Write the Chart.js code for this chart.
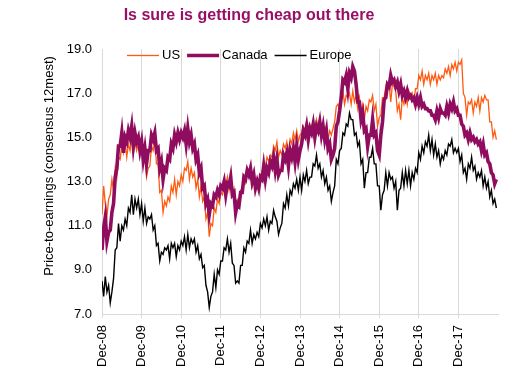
<!DOCTYPE html>
<html>
<head>
<meta charset="utf-8">
<script src="https://cdn.jsdelivr.net/npm/chart.js@4/dist/chart.umd.min.js"></script>
<style>
html,body{margin:0;padding:0;background:#fff;}
#wrap{width:527px;height:382px;position:relative;}
</style>
</head>
<body>
<div id="wrap"><canvas id="c" width="527" height="382"></canvas></div>
<script>
// Half-monthly observations starting Dec-2008 (index i -> i/2 months after Dec-08)
const xTickLabels = ['Dec-08','Dec-09','Dec-10','Dec-11','Dec-12','Dec-13','Dec-14','Dec-15','Dec-16','Dec-17'];
const seriesNames = ['US','Canada','Europe'];

const us = [
11.5,12.8,12.0,11.4,12.2,12.4,13.1,12.6,13.6,13.2,14.1,14.0,14.7,14.3,14.8,14.1,14.7,14.4,15.0,14.3,14.8,14.4,14.7,14.3,
14.8,14.2,14.2,13.2,13.6,13.7,14.6,14.4,14.9,13.8,13.8,12.5,12.6,11.6,12.1,11.9,12.3,12.1,12.8,12.5,13.1,12.4,13.0,12.8,
13.3,13.0,13.6,13.5,13.9,13.1,13.6,13.2,13.4,12.7,13.1,12.3,12.8,12.1,12.3,11.3,11.6,10.5,11.1,11.0,11.8,11.6,12.2,12.0,
12.5,12.4,12.9,12.8,13.2,12.6,13.2,12.5,12.7,11.9,12.2,12.1,12.6,12.5,13.0,12.9,13.4,13.2,13.5,12.8,13.2,12.6,12.9,12.8,
13.3,13.4,13.8,13.7,14.1,13.9,14.2,14.1,14.6,14.4,14.8,14.1,14.4,14.2,14.7,14.5,14.8,14.3,14.9,14.7,15.2,14.9,15.3,14.8,
15.1,15.2,15.5,15.3,15.7,15.2,15.6,15.4,15.7,15.2,15.8,15.5,15.8,15.3,15.6,15.0,15.5,14.9,15.3,15.1,15.4,15.7,16.4,16.5,
16.3,16.7,17.1,16.5,16.9,16.8,17.0,16.5,17.1,16.6,16.9,16.3,16.8,16.2,16.5,15.8,16.4,16.2,16.7,16.6,16.9,16.2,16.5,15.5,
15.9,16.0,16.8,16.8,17.3,17.1,17.4,16.6,17.4,17.3,17.1,16.2,16.5,15.8,16.8,16.5,17.0,16.5,17.1,16.8,17.0,16.6,17.2,17.2,
17.8,17.6,18.0,17.4,17.8,17.6,17.9,17.4,17.8,17.6,17.9,17.4,17.8,17.6,17.8,17.7,18.1,17.9,18.2,17.8,18.3,18.1,18.4,18.0,
18.4,18.3,18.5,17.0,16.8,16.0,16.6,16.5,16.7,16.1,16.6,16.4,16.8,16.2,16.8,16.6,16.9,16.7,16.7,15.7,15.7,15.0,15.3,14.9
];

const canada = [
9.9,10.9,11.4,10.3,10.7,10.8,11.6,12.0,13.2,13.6,14.6,14.6,15.2,14.3,15.0,14.8,15.3,15.0,15.5,14.6,15.2,14.8,15.0,14.4,
14.8,14.0,14.5,13.8,14.4,14.4,15.1,14.9,15.2,14.4,14.5,13.6,13.9,13.1,13.6,13.5,14.1,14.0,14.7,14.5,15.1,14.8,15.2,14.9,
15.2,15.0,15.3,14.7,15.4,14.8,15.1,14.5,14.7,14.0,14.2,13.4,13.6,12.7,12.8,12.0,12.2,11.5,12.0,11.9,12.4,12.3,12.6,12.4,
12.8,12.7,13.0,12.4,12.9,12.8,13.2,12.4,12.5,11.6,12.0,11.9,12.5,12.5,13.2,13.1,13.5,13.3,13.6,13.0,13.3,12.7,13.0,12.7,
13.2,13.1,13.7,13.1,13.6,13.4,13.9,13.7,14.1,13.5,14.0,13.3,13.5,13.5,14.2,14.0,14.3,13.7,14.4,14.1,14.5,13.9,14.6,14.0,
14.4,14.7,15.3,15.1,15.5,14.9,15.4,15.2,15.6,15.0,15.5,15.3,15.7,15.1,15.5,14.9,15.3,14.5,14.7,14.0,14.2,14.5,15.5,15.7,
16.2,16.8,17.6,17.5,17.8,17.2,17.9,17.7,18.2,18.0,17.4,16.6,16.6,15.8,16.1,15.3,15.4,14.6,15.1,15.1,15.8,15.1,15.2,14.4,
14.2,15.1,15.7,16.7,16.8,17.4,17.3,17.8,17.5,17.6,17.3,17.5,17.1,17.4,16.9,17.1,16.8,17.1,16.8,16.9,16.7,16.8,16.5,16.8,
16.5,16.8,16.4,16.5,16.3,16.3,16.2,16.2,16.0,16.0,15.8,16.2,15.9,16.3,16.1,16.1,16.0,16.4,16.1,16.5,16.3,16.6,16.2,16.3,
16.0,16.0,15.6,15.5,15.1,15.2,14.9,15.2,14.9,15.0,14.8,14.9,14.7,14.8,14.4,14.7,14.2,14.3,13.9,13.8,13.4,13.3,12.9,13.1
];

const europe = [
8.5,7.8,8.7,8.0,8.3,7.5,8.0,8.6,9.9,10.0,11.1,10.3,11.0,10.8,11.3,11.0,11.8,11.6,12.4,11.5,12.2,11.8,12.2,11.5,
12.0,11.2,11.8,11.1,11.4,11.3,11.5,10.8,11.0,10.1,10.2,9.4,9.8,9.7,10.0,9.9,10.1,9.5,10.2,10.0,10.2,9.6,10.1,9.9,
10.3,10.1,10.5,9.9,10.6,10.0,10.4,10.2,10.4,9.8,10.1,9.5,9.7,9.1,9.2,8.3,8.0,7.3,7.8,8.0,8.8,8.2,9.0,8.8,
9.4,9.4,10.0,9.9,10.4,9.8,10.2,9.3,9.2,8.4,8.5,8.4,9.2,9.2,10.0,9.8,10.3,10.2,10.8,10.2,10.6,10.4,10.7,10.5,
11.1,10.9,11.3,11.0,11.4,10.8,11.2,11.1,11.7,11.4,11.2,10.6,10.9,11.1,12.0,11.8,12.4,11.9,12.6,12.4,12.9,12.7,13.1,12.6,
13.2,12.6,13.3,13.0,13.5,12.9,13.2,13.2,13.8,13.7,14.2,13.6,13.8,13.2,13.5,12.9,13.2,12.6,12.8,12.1,12.5,12.8,14.0,13.8,
14.4,14.5,15.2,15.1,15.6,15.5,16.1,15.8,15.8,15.1,15.2,14.6,14.8,13.8,14.0,12.7,13.4,13.4,14.1,14.1,14.5,13.8,13.8,12.8,
12.8,11.7,12.4,12.6,13.4,12.8,13.4,13.1,13.2,12.7,13.0,11.7,12.6,12.7,13.4,12.8,13.5,12.9,13.5,12.8,13.4,13.1,13.6,13.4,
14.3,14.0,14.6,14.3,14.8,14.6,15.1,14.4,14.9,14.2,14.7,14.1,14.4,13.8,14.2,14.0,14.4,14.2,14.7,14.6,14.9,14.3,14.5,14.3,
14.5,13.9,14.2,13.4,13.6,13.1,13.8,13.6,14.1,13.5,13.7,13.1,13.4,13.2,13.5,12.8,13.2,12.7,13.0,12.3,12.6,12.0,12.2,11.8
];

if (us.length !== 240 || canada.length !== 240 || europe.length !== 240) {
  throw new Error('lengths ' + us.length + ' ' + canada.length + ' ' + europe.length);
}

const FONT = "'Liberation Sans', Arial, sans-serif";
const toXY = arr => arr.map((v, i) => ({x: i / 2, y: v}));

const legendPlugin = {
  id: 'inlineLegend',
  afterDraw(chart) {
    const ctx = chart.ctx;
    ctx.save();
    ctx.font = '13px ' + FONT;
    ctx.textBaseline = 'middle';
    let x = 127;
    const y = 55.5;
    chart.data.datasets.forEach(ds => {
      ctx.strokeStyle = ds.borderColor;
      ctx.lineWidth = ds.borderWidth;
      ctx.beginPath();
      ctx.moveTo(x, y);
      ctx.lineTo(x + 32, y);
      ctx.stroke();
      x += 35;
      ctx.fillStyle = '#000';
      ctx.fillText(ds.label, x, y);
      x += ctx.measureText(ds.label).width + 7;
    });
    ctx.restore();
  }
};

const yTitlePlugin = {
  id: 'yTitle',
  afterDraw(chart) {
    const ctx = chart.ctx;
    ctx.save();
    ctx.translate(49, 166);
    ctx.rotate(-Math.PI / 2);
    ctx.font = '13px ' + FONT;
    ctx.fillStyle = '#000';
    ctx.textAlign = 'center';
    ctx.textBaseline = 'middle';
    ctx.fillText('Price-to-earnings (consensus 12mest)', 0, 0);
    ctx.restore();
  }
};

new Chart(document.getElementById('c'), {
  type: 'line',
  data: {
    datasets: [
      {label: seriesNames[0], data: toXY(us), borderColor: '#FF5A10', borderWidth: 1.3, order: 3},
      {label: seriesNames[1], data: toXY(canada), borderColor: '#900C5E', borderWidth: 3.6, order: 2},
      {label: seriesNames[2], data: toXY(europe), borderColor: '#000000', borderWidth: 1.4, order: 1}
    ]
  },
  options: {
    responsive: false,
    animation: false,
    devicePixelRatio: 1,
    layout: {padding: {left: 0, right: 29, top: 0, bottom: 0}},
    elements: {point: {radius: 0}, line: {tension: 0, fill: false}},
    plugins: {
      legend: {display: false},
      tooltip: {enabled: false},
      title: {
        display: true,
        text: 'Is sure is getting cheap out there',
        color: '#990F66',
        font: {family: FONT, size: 16, weight: 'bold', lineHeight: 1.2},
        padding: {top: 5.5, bottom: 24.3}
      }
    },
    scales: {
      x: {
        type: 'linear',
        min: 0,
        max: 120,
        afterFit(scale) { scale.height = 68; },
        grid: {display: true, color: '#D9D9D9', lineWidth: 1, drawTicks: true, tickLength: 4, tickColor: '#D9D9D9'},
        border: {display: true, color: '#D9D9D9', width: 1},
        ticks: {
          stepSize: 12,
          autoSkip: false,
          maxRotation: 90,
          minRotation: 90,
          padding: 7,
          color: '#000',
          font: {family: FONT, size: 13},
          callback: v => { const l = xTickLabels[v / 12]; return l === undefined ? null : l; }
        }
      },
      y: {
        min: 7,
        max: 19,
        afterFit(scale) { scale.width = 102; },
        grid: {display: false, drawTicks: false},
        border: {display: true, color: '#D9D9D9', width: 1},
        ticks: {
          stepSize: 2,
          padding: 10,
          color: '#000',
          font: {family: FONT, size: 13},
          callback: v => v.toFixed(1)
        }
      }
    }
  },
  plugins: [legendPlugin, yTitlePlugin]
});
</script>
</body>
</html>
